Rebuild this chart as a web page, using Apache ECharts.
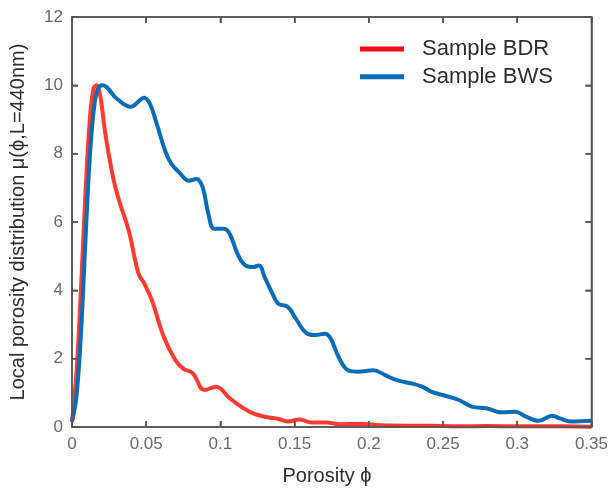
<!DOCTYPE html>
<html><head><meta charset="utf-8">
<script src="https://cdn.jsdelivr.net/npm/echarts@6/dist/echarts.min.js"></script>
<style>html,body{margin:0;padding:0;background:#fff}#c{width:611px;height:491px}</style>
</head><body><div id="c"></div>
<script>
const bdrX = [0,0.003,0.006,0.009,0.012,0.0145,0.0165,0.019,0.0225,0.0277,0.0317,0.0382,0.0448,0.0487,0.0539,0.0618,0.0696,0.0749,0.0814,0.0893,0.0971,0.1063,0.1141,0.122,0.13,0.1377,0.1455,0.1534,0.1613,0.1717,0.18,0.195,0.208,0.227,0.24,0.26,0.28,0.30,0.32,0.35];
const bdrY = [0.15,1.6,4.0,6.8,9.0,9.9,10.0,9.7,8.57,7.3,6.63,5.75,4.49,4.2,3.7,2.64,1.96,1.71,1.57,1.08,1.18,0.84,0.59,0.40,0.30,0.25,0.16,0.22,0.13,0.13,0.08,0.09,0.05,0.04,0.04,0.02,0.03,0.02,0.02,0.01];
const bwsX = [0,0.003,0.006,0.009,0.012,0.015,0.0175,0.0205,0.0304,0.0395,0.0487,0.0526,0.0565,0.0631,0.067,0.0723,0.0788,0.084,0.088,0.0919,0.0958,0.1024,0.1063,0.1115,0.1168,0.122,0.1259,0.1298,0.1351,0.139,0.1455,0.1508,0.1586,0.1639,0.1704,0.1743,0.1796,0.1861,0.1927,0.2031,0.211,0.2188,0.2293,0.2359,0.2424,0.2503,0.2607,0.2699,0.2791,0.2895,0.2987,0.3052,0.3144,0.3236,0.3288,0.3366,0.35];
const bwsY = [0.15,0.9,2.7,5.4,7.9,9.4,9.9,10.0,9.6,9.37,9.64,9.45,8.96,8.04,7.70,7.45,7.21,7.26,7.02,6.24,5.8,5.8,5.65,5.07,4.73,4.68,4.73,4.39,3.90,3.61,3.51,3.17,2.73,2.69,2.73,2.59,2.05,1.66,1.62,1.66,1.52,1.37,1.27,1.18,1.03,0.93,0.79,0.59,0.55,0.43,0.45,0.32,0.18,0.33,0.25,0.16,0.18];
const xTicks = [0,0.05,0.1,0.15,0.2,0.25,0.3,0.35];
const yTicks = [0,2,4,6,8,10,12];
const names = ['Sample BDR','Sample BWS'];
const xTitle = 'Porosity ϕ';
const yTitle = 'Local porosity distribution μ(ϕ,L=440nm)';
const colors = ['#ff3a2f','#0a6db8'];
const legendColors = ['#ff0a14','#0a6db8'];

const pair = (xs, ys) => xs.map((x,i)=>[x, ys[i]]);
const font = 'Liberation Sans, Arial, Helvetica, sans-serif';
const frameColor = '#555';
const mkLine = () => ({show:true, onZero:false, lineStyle:{color:frameColor, width:1.5}});
const mkTick = () => ({show:true, inside:true, length:6, lineStyle:{color:frameColor, width:1.5}});
const xMin = xTicks[0], xMax = xTicks[xTicks.length-1];
const yMin = yTicks[0], yMax = yTicks[yTicks.length-1];

const titles = [
  {type:'text', id:'xt', x:327, y:476, silent:true,
   style:{text:xTitle, fontFamily:font, fontSize:20, fill:'#2e2e2e', align:'center', verticalAlign:'middle', textAlign:'center', textVerticalAlign:'middle'}},
  {type:'text', id:'yt', x:18, y:222, rotation:Math.PI/2, silent:true,
   style:{text:yTitle, fontFamily:font, fontSize:20, fill:'#2e2e2e', align:'center', verticalAlign:'middle', textAlign:'center', textVerticalAlign:'middle'}}
];

const chart = echarts.init(document.getElementById('c'));
chart.setOption({
  animation:false,
  grid:{left:72, right:18, top:17, bottom:64},
  legend:{
    data:[{name:names[0], itemStyle:{color:legendColors[0]}},{name:names[1], itemStyle:{color:legendColors[1]}}],
    orient:'vertical', left:355, top:33, icon:'rect', itemWidth:44, itemHeight:5, itemGap:5.7,
    textStyle:{fontFamily:font, fontSize:22, color:'#2e2e2e', padding:[0,0,0,13], lineHeight:22}
  },
  graphic:titles,
  xAxis:[{
    type:'value', min:xMin, max:xMax, interval:0.05,
    axisLine:mkLine(), axisTick:mkTick(),
    axisLabel:{fontFamily:font, fontSize:17, color:'#6a6a6a', margin:9},
    splitLine:{show:false}
  },{
    type:'value', position:'top', min:xMin, max:xMax, interval:0.05,
    axisLine:mkLine(), axisTick:mkTick(), axisLabel:{show:false}, splitLine:{show:false}
  }],
  yAxis:[{
    type:'value', min:yMin, max:yMax, interval:2,
    axisLine:mkLine(), axisTick:mkTick(),
    axisLabel:{fontFamily:font, fontSize:17, color:'#6a6a6a', margin:9},
    splitLine:{show:false}
  },{
    type:'value', position:'right', min:yMin, max:yMax, interval:2,
    axisLine:mkLine(), axisTick:mkTick(), axisLabel:{show:false}, splitLine:{show:false}
  }],
  series:[
    {name:names[0], type:'line', data:pair(bdrX,bdrY), smooth:0.4, showSymbol:false,
     lineStyle:{color:colors[0], width:4}, itemStyle:{color:legendColors[0]}},
    {name:names[1], type:'line', data:pair(bwsX,bwsY), smooth:0.4, showSymbol:false,
     lineStyle:{color:colors[1], width:4}, itemStyle:{color:legendColors[1]}},
    {name:'mirror', type:'line', data:[], xAxisIndex:1, yAxisIndex:1, showSymbol:false}
  ]
});

// Frame and inward ticks placed through the chart's own scales (fallback so the box is always drawn)
const toPx = (x, y) => chart.convertToPixel({gridIndex:0}, [x, y]);
const p0 = toPx(xMin, yMin), p1 = toPx(xMax, yMax);
const stroke = {stroke:frameColor, lineWidth:1.5, fill:null};
const frame = [{type:'rect', id:'frame', silent:true, z:100,
  shape:{x:p0[0], y:p1[1], width:p1[0]-p0[0], height:p0[1]-p1[1]}, style:{stroke:frameColor, lineWidth:1.5, fill:'rgba(0,0,0,0)'}}];
const TL = 6;
xTicks.forEach((v, i) => {
  const px = toPx(v, yMin)[0];
  frame.push({type:'line', id:'xb'+i, silent:true, z:100, shape:{x1:px, y1:p0[1], x2:px, y2:p0[1]-TL}, style:stroke});
  frame.push({type:'line', id:'xt'+i, silent:true, z:100, shape:{x1:px, y1:p1[1], x2:px, y2:p1[1]+TL}, style:stroke});
});
yTicks.forEach((v, i) => {
  const py = toPx(xMin, v)[1];
  frame.push({type:'line', id:'yl'+i, silent:true, z:100, shape:{x1:p0[0], y1:py, x2:p0[0]+TL, y2:py}, style:stroke});
  frame.push({type:'line', id:'yr'+i, silent:true, z:100, shape:{x1:p1[0], y1:py, x2:p1[0]-TL, y2:py}, style:stroke});
});
chart.setOption({graphic: titles.concat(frame)});
</script></body></html>
